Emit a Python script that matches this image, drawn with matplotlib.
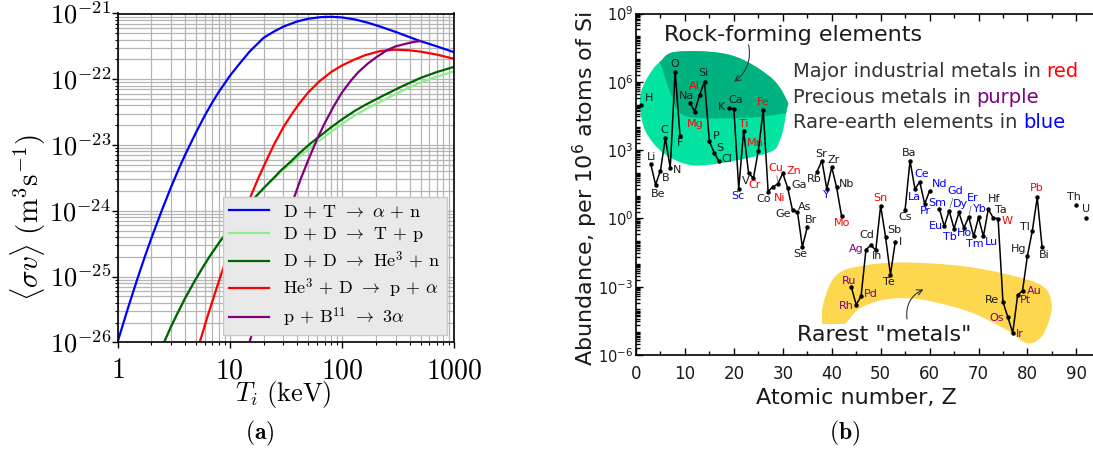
import numpy as np
import matplotlib
matplotlib.use("Agg")
import matplotlib.pyplot as plt
from matplotlib.patches import Polygon
from matplotlib.ticker import LogLocator, NullFormatter

plt.rcParams['font.family'] = 'DejaVu Sans'
plt.rcParams['mathtext.fontset'] = 'cm'

# -------------------------------
# (a) Fusion reactivities, log10 <sigma v> (m^3/s) vs ion temperature (keV)
# -------------------------------
dt_T = [1, 1.25, 1.5, 1.75, 2, 2.5, 3, 3.5, 4, 5, 6, 7, 8, 10, 12, 15, 20, 25, 30, 40, 50,
        65, 80, 100, 130, 170, 220, 300, 400, 500, 700, 1000]
dt_log = [-26.0, -25.46, -25.04, -24.70, -24.42, -23.98, -23.64, -23.37, -23.15, -22.81, -22.55,
          -22.35, -22.19, -21.95, -21.78, -21.58, -21.37, -21.27, -21.2, -21.12, -21.08,
          -21.055, -21.05, -21.06, -21.09, -21.14, -21.2, -21.28, -21.36, -21.42, -21.5, -21.59]

dd_T = [2.6, 3, 3.4, 4, 4.9, 5.8, 6.7, 8, 9.4, 12, 15, 18, 21, 25, 28, 35, 42, 52, 64, 80,
        100, 130, 165, 220, 330, 500, 700, 1000]
ddn_log = [-26.0, -25.76, -25.57, -25.33, -25.06, -24.85, -24.68, -24.49, -24.33, -24.09, -23.89,
           -23.74, -23.62, -23.49, -23.40, -23.25, -23.12, -22.98, -22.86, -22.73, -22.61,
           -22.48, -22.38, -22.27, -22.12, -21.98, -21.89, -21.81]
ddp_log = [-26.0, -25.76, -25.57, -25.33, -25.06, -24.85, -24.68, -24.49, -24.33, -24.09, -23.89,
           -23.74, -23.62, -23.50, -23.42, -23.28, -23.17, -23.04, -22.92, -22.80, -22.68,
           -22.55, -22.45, -22.34, -22.19, -22.05, -21.96, -21.88]

dhe3_T = [5.4, 6.3, 7.2, 8.4, 9.7, 11, 12.5, 14, 15.7, 18, 21, 25, 30, 36, 42, 50, 63, 80, 100,
          125, 160, 220, 300, 400, 500, 700, 1000]
dhe3_log = [-26.0, -25.62, -25.31, -24.96, -24.66, -24.41, -24.16, -23.95, -23.74, -23.50, -23.25,
            -22.98, -22.73, -22.52, -22.36, -22.20, -22.03, -21.89, -21.79, -21.71, -21.635,
            -21.57, -21.55, -21.56, -21.58, -21.625, -21.69]

pb_T = [15, 17, 20, 23, 27, 32, 37, 43, 50, 60, 70, 85, 100, 120, 140, 170, 200, 250, 300,
        370, 440, 500]
pb_log = [-26.0, -25.67, -25.25, -24.91, -24.53, -24.13, -23.82, -23.51, -23.23, -22.91, -22.67,
          -22.40, -22.20, -22.02, -21.89, -21.76, -21.67, -21.56, -21.50, -21.46, -21.43, -21.42]

# -------------------------------
# (b) Crustal abundance, atoms per 10^6 atoms of Si (log10 values)
# -------------------------------
elements = ['H', 'Li', 'Be', 'B', 'C', 'N', 'O', 'F', 'Na', 'Mg', 'Al', 'Si', 'P', 'S', 'Cl',
            'K', 'Ca', 'Sc', 'Ti', 'V', 'Cr', 'Mn', 'Fe', 'Co', 'Ni', 'Cu', 'Zn', 'Ga', 'Ge',
            'As', 'Se', 'Br', 'Rb', 'Sr', 'Y', 'Zr', 'Nb', 'Mo', 'Ru', 'Rh', 'Pd', 'Ag', 'Cd',
            'In', 'Sn', 'Sb', 'Te', 'I', 'Cs', 'Ba', 'La', 'Ce', 'Pr', 'Nd', 'Sm', 'Eu', 'Gd',
            'Tb', 'Dy', 'Ho', 'Er', 'Tm', 'Yb', 'Lu', 'Hf', 'Ta', 'W', 'Re', 'Os', 'Ir', 'Pt',
            'Au', 'Hg', 'Tl', 'Pb', 'Bi', 'Th', 'U']
atomic_number = [1, 3, 4, 5, 6, 7, 8, 9, 11, 12, 13, 14, 15, 16, 17,
                 19, 20, 21, 22, 23, 24, 25, 26, 27, 28, 29, 30, 31, 32,
                 33, 34, 35, 37, 38, 39, 40, 41, 42, 44, 45, 46, 47, 48,
                 49, 50, 51, 52, 53, 55, 56, 57, 58, 59, 60, 62, 63, 64,
                 65, 66, 67, 68, 69, 70, 71, 72, 73, 74, 75, 76, 77, 78,
                 79, 80, 81, 82, 83, 90, 92]
log_abundance = [5.0, 2.4, 1.48, 2.1, 3.53, 2.21, 6.45, 3.63, 5.09, 4.69, 5.43, 6.0, 3.38, 2.87, 2.5,
                 4.84, 4.81, 1.3, 3.85, 1.99, 1.77, 2.98, 4.74, 1.18, 1.4, 1.51, 1.99, 1.33, 0.35,
                 0.28, -1.25, -0.39, 2.06, 2.54, 1.29, 2.25, 1.36, 0.12, -3.01, -3.79, -3.42, -1.37, -1.18,
                 -1.4, 0.56, -0.82, -2.47, -1.02, 0.38, 2.54, 1.3, 1.6, 0.63, 1.21, 0.43, -0.35, 0.34,
                 -0.45, 0.26, -0.42, 0.06, -0.79, 0.04, -0.79, 0.41, 0.02, -0.01, -3.67, -4.34, -5.03, -3.37,
                 -3.17, -1.64, -0.54, 0.92, -1.27, 0.57, 0.02]

industrial = {'Mg', 'Al', 'Ti', 'Cr', 'Mn', 'Fe', 'Ni', 'Cu', 'Zn', 'Mo', 'Sn', 'W', 'Pb'}
precious = {'Ru', 'Rh', 'Pd', 'Ag', 'Os', 'Ir', 'Pt', 'Au'}
rare_earth = {'Sc', 'Y', 'La', 'Ce', 'Pr', 'Nd', 'Sm', 'Eu', 'Gd', 'Tb', 'Dy', 'Ho', 'Er',
              'Tm', 'Yb', 'Lu'}

# label offsets from the point, in pixels (right, down)
label_offset = {
    'H': (8, -7), 'Li': (1, -7), 'Be': (3, 9), 'B': (5, 7), 'C': (-1, -8), 'N': (7, 2),
    'O': (0, -8), 'F': (0, 7), 'Na': (-3, -7), 'Mg': (1, 12), 'Al': (-5, -9), 'Si': (-1, -9),
    'P': (7, -5), 'S': (6, -5), 'Cl': (8, -2), 'K': (-7, -1), 'Ca': (2, -9), 'Sc': (-1, 7),
    'Ti': (0, -7), 'V': (-3, 8), 'Cr': (1, 7), 'Mn': (-3, -8), 'Fe': (0, -8), 'Co': (-4, 7),
    'Ni': (7, 11), 'Cu': (-2, -16), 'Zn': (11, -2), 'Ga': (11, -3), 'Ge': (-9, 4), 'As': (7, -5),
    'Se': (-2, 7), 'Br': (4, -7), 'Rb': (-3, 7), 'Sr': (-1, -7), 'Y': (0, 6), 'Zr': (2, -7),
    'Nb': (10, -3), 'Mo': (1, 7), 'Ru': (-2, -6), 'Rh': (-10, 1), 'Pd': (10, -2), 'Ag': (-10, -1),
    'Cd': (-4, -10), 'In': (1, 6), 'Sn': (0, -8), 'Sb': (9, -7), 'Te': (-2, 7), 'I': (5, 0),
    'Cs': (0, 7), 'Ba': (-1, -8), 'La': (0, 8), 'Ce': (2, -8), 'Pr': (1, 7), 'Nd': (10, -7),
    'Sm': (-2, -6), 'Eu': (-8, 0), 'Gd': (6, -20), 'Tb': (-4, 8), 'Dy': (1, -8), 'Ho': (1, 5),
    'Er': (4, -19), 'Tm': (1, 8), 'Yb': (1, -8), 'Lu': (8, 6), 'Hf': (6, -10), 'Ta': (8, -8),
    'W': (9, 2), 'Re': (-11, -2), 'Os': (-11, 1), 'Ir': (7, 1), 'Pt': (8, 5), 'Au': (12, 0),
    'Hg': (-9, -7), 'Tl': (-7, -4), 'Pb': (0, -9), 'Bi': (2, 8), 'Th': (-2, -8), 'U': (0, -9),
}
leader = {'Cu', 'Ni', 'Gd', 'Er'}

# outlines of the shaded regions, (Z, log10 abundance)
rock_outline = [(4.9, 6.88), (8.32, 7.32), (19.21, 7.18), (27.39, 6.22), (30.8, 5.2),
                (30.8, 4.76), (29.43, 3.44), (26.71, 2.86), (15.12, 2.36), (9.67, 2.42),
                (4.9, 3.0), (1.84, 3.88), (0.82, 4.91), (1.16, 5.64), (2.86, 6.37)]
rock_core = [(3.88, 7.62), (33.5, 7.84), (33.5, 4.67), (30.6, 4.62), (23.97, 4.44),
             (13.75, 4.40), (8.99, 4.63), (6.95, 5.55), (5.11, 6.74)]
rare_outline = [(38.22, -3.80), (41.02, -2.48), (47.15, -2.05), (55.99, -1.94), (67.59, -2.12),
                (77.8, -2.56), (83.24, -3.0), (84.96, -3.73), (84.26, -4.6), (82.57, -5.26),
                (79.85, -5.48), (75.76, -4.9), (68.93, -4.17), (62.13, -3.73), (55.99, -3.51),
                (50.54, -3.58), (45.78, -3.95), (43.06, -4.55), (40.67, -5.12), (38.42, -4.9)]


def smooth_closed(pts, n=24):
    # closed Catmull-Rom outline, returned in (Z, abundance)
    p = np.asarray(pts, float)
    m = len(p)
    t = np.linspace(0, 1, n, endpoint=False)[:, None]
    out = []
    for i in range(m):
        p0, p1, p2, p3 = p[i - 1], p[i], p[(i + 1) % m], p[(i + 2) % m]
        out.append(0.5 * (2 * p1 + (p2 - p0) * t + (2 * p0 - 5 * p1 + 4 * p2 - p3) * t ** 2
                          + (3 * p1 - p0 - 3 * p2 + p3) * t ** 3))
    xy = np.vstack(out)
    return np.column_stack([xy[:, 0], 10.0 ** xy[:, 1]])


W, H = 1093, 454
fig = plt.figure(figsize=(W / 100, H / 100), dpi=100)

# ---------------- panel (a) ----------------
ax = fig.add_axes([117.5 / W, 1 - 342.3 / H, 336.8 / W, 328.8 / H])
curves = [
    (dt_T, dt_log, '#0000ff', r'D + T $\rightarrow$ $\alpha$ + n'),
    (dd_T, ddp_log, '#90ee90', r'D + D $\rightarrow$ T + p'),
    (dd_T, ddn_log, '#006400', r'D + D $\rightarrow$ He$^3$ + n'),
    (dhe3_T, dhe3_log, '#ff0000', r'He$^3$ + D $\rightarrow$ p + $\alpha$'),
    (pb_T, pb_log, '#800080', r'p + B$^{11}$ $\rightarrow$ 3$\alpha$'),
]
for T, lg, col, lab in curves:
    ax.plot(T, 10.0 ** np.array(lg), color=col, lw=1.6, label=lab)
ax.set_xscale('log')
ax.set_yscale('log')
ax.set_xlim(1, 1000)
ax.set_ylim(1e-26, 1e-21)
ax.set_xticks([1, 10, 100, 1000], ['$1$', '$10$', '$100$', '$1000$'], fontsize=20)
ax.set_yticks([1e-26, 1e-25, 1e-24, 1e-23, 1e-22, 1e-21],
              ['$10^{-26}$', '$10^{-25}$', '$10^{-24}$', '$10^{-23}$', '$10^{-22}$', '$10^{-21}$'],
              fontsize=19)
for axis in (ax.xaxis, ax.yaxis):
    axis.set_minor_locator(LogLocator(base=10, subs=np.arange(2, 10), numticks=50))
    axis.set_minor_formatter(NullFormatter())
ax.tick_params(which='major', length=4, width=1)
ax.tick_params(which='minor', length=2.5, width=0.8)
ax.tick_params(axis='x', pad=6)
ax.tick_params(axis='y', pad=0.5)
ax.grid(True, which='both', color='#b5b5b5', lw=0.9)
ax.set_axisbelow(True)
for s in ax.spines.values():
    s.set_linewidth(1.2)
ax.legend(loc='lower right', prop={'family': 'cmr10', 'size': 13}, facecolor='#e9e9e9',
          edgecolor='#c8c8c8', framealpha=1, fancybox=False, borderaxespad=0.4,
          handlelength=2.2, labelspacing=0.3, borderpad=0.35)

fig.text(28 / W, 1 - 218 / H, r'$\langle \sigma v \rangle\ (\mathrm{m}^3\mathrm{s}^{-1})$',
         rotation=90, ha='center', va='center', fontsize=21)
fig.text(283 / W, 1 - 395 / H, r'$T_i\ (\mathrm{keV})$', ha='center', va='center', fontsize=19)
fig.text(260 / W, 1 - 433 / H, r'$\mathbf{(a)}$', ha='center', va='center', fontsize=17)

# ---------------- panel (b) ----------------
txt = '#1a1a1a'
axb = fig.add_axes([636 / W, 1 - 355 / H, 95 * 4.893 / W, 341.5 / H])
axb.set_yscale('log')
axb.set_xlim(0, 95)
axb.set_ylim(1e-6, 1e9)

rock = Polygon(smooth_closed(rock_outline), closed=True, fc='#03e3a1', ec='none', zorder=1)
axb.add_patch(rock)
core = Polygon(smooth_closed(rock_core), closed=True, fc='#00b27f', ec='none', zorder=1.1)
axb.add_patch(core)
core.set_clip_path(rock)
axb.add_patch(Polygon(smooth_closed(rare_outline), closed=True, fc='#fdd84f', ec='none', zorder=1))

z_arr = np.array(atomic_number)
a_arr = 10.0 ** np.array(log_abundance)
breaks = np.where(np.diff(z_arr) > 1)[0] + 1
for zs, ab in zip(np.split(z_arr, breaks), np.split(a_arr, breaks)):
    axb.plot(zs, ab, '-', color='black', lw=1.1, marker='o', ms=2.2, zorder=3)

for sym, z, a in zip(elements, z_arr, a_arr):
    dx, dy = label_offset[sym]
    if sym in industrial:
        c = '#ff0000'
    elif sym in precious:
        c = '#800080'
    elif sym in rare_earth:
        c = '#0000ff'
    else:
        c = txt
    arrow = dict(arrowstyle='-', lw=0.5, color='#555555', shrinkA=0, shrinkB=2) if sym in leader else None
    axb.annotate(sym, (z, a), xytext=(dx, -dy), textcoords='offset pixels', ha='center',
                 va='center', fontsize=8, color=c, arrowprops=arrow, zorder=4)

axb.text(32.1, 10 ** 8.06, 'Rock-forming elements', fontsize=16, color=txt, ha='center', va='center')
axb.annotate('', xy=(19.56, 10 ** 5.93), xytext=(22.9, 10 ** 7.75),
             arrowprops=dict(arrowstyle='->', color='#333333', lw=0.8,
                             connectionstyle='arc3,rad=-0.35'))
axb.text(50.8, 10 ** -5.12, 'Rarest "metals"', fontsize=16, color=txt, ha='center', va='center',
         bbox=dict(fc='white', ec='none', pad=0.5), zorder=2)
axb.annotate('', xy=(59.27, 10 ** -3.07), xytext=(55.45, 10 ** -4.54),
             arrowprops=dict(arrowstyle='->', color='#333333', lw=0.8,
                             connectionstyle='arc3,rad=-0.4'))

legend_lines = [('Major industrial metals in', 'red', '#ff0000', 6.44),
                ('Precious metals in', 'purple', '#800080', 5.33),
                ('Rare-earth elements in', 'blue', '#0000ff', 4.22)]
for head, word, col, ly in legend_lines:
    t = axb.text(32.0, 10 ** ly, head, fontsize=14, color='#333333', ha='left', va='center')
    axb.annotate(word, xy=(1, 0), xycoords=t, xytext=(4.5, 0), textcoords='offset points',
                 fontsize=14, color=col, ha='left', va='bottom')

axb.set_xticks(np.arange(0, 100, 10), [str(v) for v in range(0, 100, 10)], fontsize=12, color=txt)
axb.set_xticks(np.arange(5, 100, 10), minor=True)
axb.set_yticks([1e-6, 1e-3, 1e0, 1e3, 1e6, 1e9],
               ['$10^{-6}$', '$10^{-3}$', '$10^{0}$', '$10^{3}$', '$10^{6}$', '$10^{9}$'],
               fontsize=10.5, color=txt, math_fontfamily='dejavusans')
axb.yaxis.set_minor_locator(LogLocator(base=10, subs=np.arange(1, 10), numticks=200))
axb.yaxis.set_minor_formatter(NullFormatter())
axb.tick_params(which='both', direction='in', top=True, right=True, width=1)
axb.tick_params(which='major', length=5)
axb.tick_params(which='minor', length=3)
axb.tick_params(axis='x', pad=7)
axb.tick_params(axis='y', pad=2)
for s in axb.spines.values():
    s.set_linewidth(1.2)

fig.text(585 / W, 1 - 189 / H, 'Abundance, per 10$^6$ atoms of Si', rotation=90, ha='center',
         va='center', fontsize=16, color=txt, math_fontfamily='dejavusans')
fig.text(856.7 / W, 1 - 398 / H, 'Atomic number, Z', ha='center', va='center', fontsize=16, color=txt)
fig.text(845 / W, 1 - 433 / H, r'$\mathbf{(b)}$', ha='center', va='center', fontsize=17)

fig.savefig('out.png', dpi=100)
